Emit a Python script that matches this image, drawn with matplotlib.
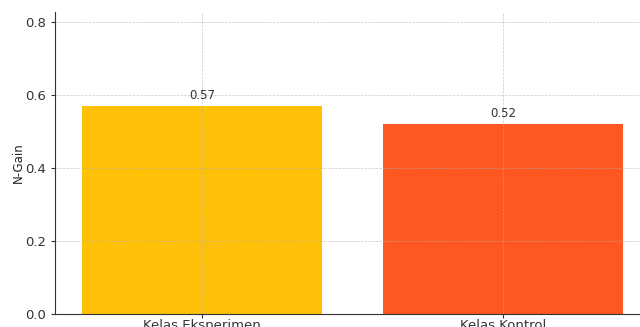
import matplotlib
matplotlib.use("Agg")
import matplotlib.pyplot as plt

# Data
categories = ["Kelas Eksperimen", "Kelas Kontrol"]
n_gain = [0.57, 0.52]
colors = ["#FFC107", "#FF5722"]

fig = plt.figure(figsize=(6.4, 3.27), dpi=100)
# axes extend a bit past the right/bottom edge (the reference is a crop)
ax = fig.add_axes([55 / 640, 13 / 327, 595 / 640, 302 / 327])

bars = ax.bar(categories, n_gain, color=colors, width=0.8, zorder=1)
for b, v in zip(bars, n_gain):
    ax.text(b.get_x() + b.get_width() / 2, v + 0.01, f"{v:.2f}",
            ha="center", va="bottom", fontsize=8.5, color="#333333")

ax.set_ylim(0, 0.827)
ax.set_yticks([0.0, 0.2, 0.4, 0.6, 0.8])
ax.set_ylabel("N-Gain", fontsize=8.5, color="#222222", labelpad=0)
ax.set_axisbelow(False)
ax.grid(True, linestyle="--", linewidth=0.5, color="#b0b0b0", alpha=0.7, zorder=2)
for s in ["top", "right"]:
    ax.spines[s].set_visible(False)
for s in ["left", "bottom"]:
    ax.spines[s].set_color("#333333")
    ax.spines[s].set_zorder(3)
ax.tick_params(labelsize=9.5, colors="#333333", length=3)
ax.tick_params(axis="x", pad=0.5)

fig.savefig("out.png", dpi=100)
